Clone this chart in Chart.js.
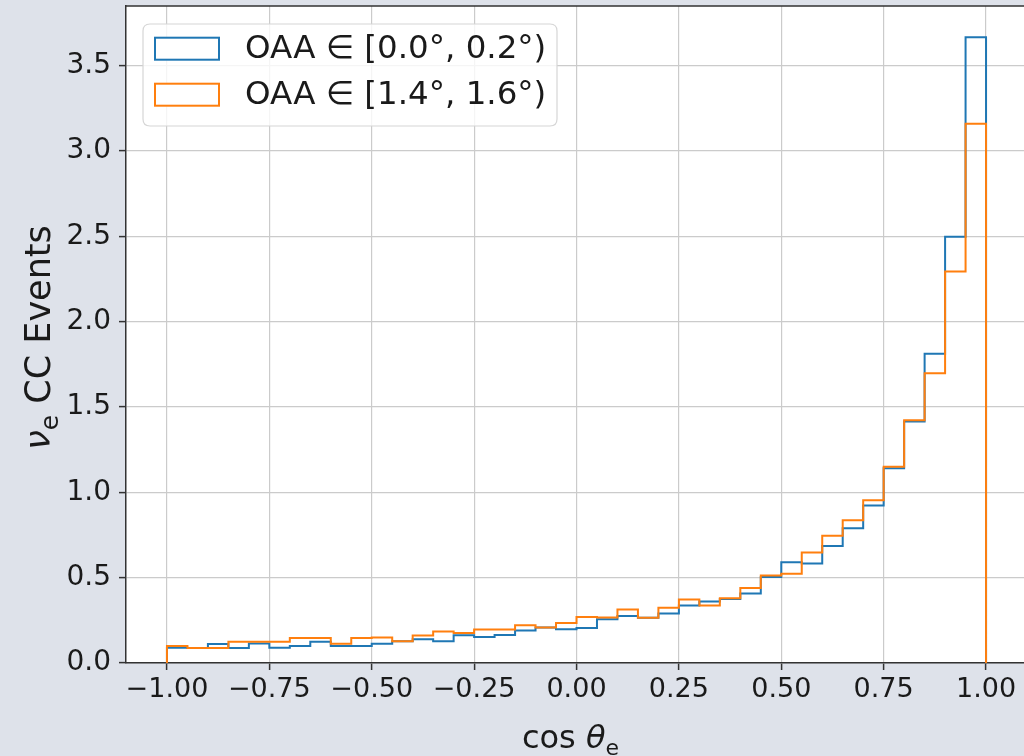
<!DOCTYPE html>
<html>
<head>
<meta charset="utf-8">
<title>nu_e CC events vs cos theta_e</title>
<script src="https://cdn.jsdelivr.net/npm/chart.js@4/dist/chart.umd.min.js"></script>
<style>
  html, body { margin: 0; padding: 0; background: #dee2ea; overflow: hidden; }
  canvas { display: block; }
</style>
</head>
<body>
<canvas id="hist" width="1030" height="756"></canvas>
<script>
// Histogram bin edges in cos(theta_e): 40 bins of width 0.05
const binEdges = [
  -1.00, -0.95, -0.90, -0.85, -0.80, -0.75, -0.70, -0.65, -0.60, -0.55,
  -0.50, -0.45, -0.40, -0.35, -0.30, -0.25, -0.20, -0.15, -0.10, -0.05,
   0.00,  0.05,  0.10,  0.15,  0.20,  0.25,  0.30,  0.35,  0.40,  0.45,
   0.50,  0.55,  0.60,  0.65,  0.70,  0.75,  0.80,  0.85,  0.90,  0.95,
   1.00
];

const seriesLabels = ['OAA \u2208 [0.0\u00b0, 0.2\u00b0)', 'OAA \u2208 [1.4\u00b0, 1.6\u00b0)'];

// Events per bin, on-axis slice
const countsOAA00to02 = [
  0.090, 0.088, 0.111, 0.088, 0.114, 0.090, 0.099, 0.124, 0.099, 0.099,
  0.113, 0.127, 0.139, 0.127, 0.163, 0.152, 0.164, 0.190, 0.208, 0.198,
  0.205, 0.257, 0.276, 0.265, 0.290, 0.337, 0.360, 0.375, 0.407, 0.504,
  0.590, 0.583, 0.686, 0.790, 0.922, 1.141, 1.415, 1.812, 2.497, 3.666
];

// Events per bin, 1.4-1.6 degree off-axis slice
const countsOAA14to16 = [
  0.100, 0.088, 0.088, 0.124, 0.124, 0.124, 0.146, 0.146, 0.113, 0.146,
  0.149, 0.127, 0.161, 0.185, 0.176, 0.196, 0.196, 0.221, 0.208, 0.235,
  0.270, 0.267, 0.313, 0.265, 0.323, 0.372, 0.337, 0.379, 0.440, 0.512,
  0.523, 0.648, 0.745, 0.836, 0.953, 1.149, 1.422, 1.697, 2.294, 3.159
];

const xTickValues = [-1.00, -0.75, -0.50, -0.25, 0.00, 0.25, 0.50, 0.75, 1.00];
const yTickValues = [0.0, 0.5, 1.0, 1.5, 2.0, 2.5, 3.0, 3.5];

const seriesColors = ['#1f77b4', '#ff7f0e'];

const FAMILY = "'DejaVu Sans', 'Liberation Sans', sans-serif";
const TEXT = '#1a1a1a';

// Outline of a step histogram: rise from 0 at the first edge, run across each bin, drop to 0 at the last edge
function stepOutline(edges, counts) {
  const pts = [{ x: edges[0], y: 0 }];
  counts.forEach((c, i) => pts.push({ x: edges[i], y: c }));
  pts.push({ x: edges[edges.length - 1], y: counts[counts.length - 1] });
  pts.push({ x: edges[edges.length - 1], y: 0 });
  return pts;
}

function fmt(v, digits) {
  return (v < 0 ? '\u2212' : '') + Math.abs(v).toFixed(digits);
}

// Background, white axes face, and the top/right frame lines
const framePlugin = {
  id: 'frame',
  beforeDraw(chart) {
    const { ctx, chartArea: a, width, height } = chart;
    ctx.save();
    ctx.fillStyle = '#dee2ea';
    ctx.fillRect(0, 0, width, height);
    ctx.fillStyle = '#ffffff';
    ctx.fillRect(a.left, a.top, a.right - a.left, a.bottom - a.top);
    ctx.restore();
  },
  afterDraw(chart) {
    const { ctx, chartArea: a } = chart;
    ctx.save();
    ctx.strokeStyle = '#333333';
    ctx.lineWidth = 1.5;
    ctx.beginPath();
    ctx.moveTo(a.left, a.top);
    ctx.lineTo(a.right, a.top);
    ctx.lineTo(a.right, a.bottom);
    ctx.stroke();
    ctx.restore();
  }
};

// Legend box in the upper-left corner of the axes
const legendPlugin = {
  id: 'boxLegend',
  afterDatasetsDraw(chart) {
    const { ctx } = chart;
    const x = 143, y = 24, w = 414, h = 102, r = 7;
    ctx.save();
    ctx.beginPath();
    ctx.moveTo(x + r, y);
    ctx.lineTo(x + w - r, y);
    ctx.quadraticCurveTo(x + w, y, x + w, y + r);
    ctx.lineTo(x + w, y + h - r);
    ctx.quadraticCurveTo(x + w, y + h, x + w - r, y + h);
    ctx.lineTo(x + r, y + h);
    ctx.quadraticCurveTo(x, y + h, x, y + h - r);
    ctx.lineTo(x, y + r);
    ctx.quadraticCurveTo(x, y, x + r, y);
    ctx.closePath();
    ctx.fillStyle = 'rgba(255,255,255,0.8)';
    ctx.fill();
    ctx.strokeStyle = '#d6d6d6';
    ctx.lineWidth = 1.2;
    ctx.stroke();

    chart.data.datasets.forEach((ds, i) => {
      const cy = 48.7 + i * 46;
      ctx.fillStyle = '#ffffff';
      ctx.fillRect(154, cy - 11.5, 66, 23);
      ctx.strokeStyle = ds.borderColor;
      ctx.lineWidth = 2;
      ctx.strokeRect(155, cy - 11, 64, 22);
      ctx.fillStyle = TEXT;
      ctx.font = `32.5px ${FAMILY}`;
      ctx.textAlign = 'left';
      ctx.textBaseline = 'middle';
      ctx.fillText(ds.label, 245, cy + 1);
    });
    ctx.restore();
  }
};

// Draws a run of text pieces (normal / italic / subscript) centred on 0 along the baseline
function drawPieces(ctx, pieces, size) {
  const fontOf = p => `${p.italic ? 'italic ' : ''}${Math.round(size * (p.sub ? 0.7 : 1))}px ${FAMILY}`;
  let total = 0;
  pieces.forEach(p => { ctx.font = fontOf(p); p.w = ctx.measureText(p.t).width; total += p.w; });
  let cx = -total / 2;
  pieces.forEach(p => {
    ctx.font = fontOf(p);
    ctx.fillText(p.t, cx, p.sub ? size * 0.22 : 0);
    cx += p.w;
  });
}

// Axis titles with math-style Greek letters and subscripts
const titlesPlugin = {
  id: 'axisTitles',
  afterDraw(chart) {
    const { ctx, chartArea: a } = chart;
    ctx.save();
    ctx.fillStyle = TEXT;
    ctx.textAlign = 'left';
    ctx.textBaseline = 'alphabetic';

    ctx.save();
    ctx.translate((a.left + a.right) / 2 - 6, 748);
    drawPieces(ctx, [
      { t: 'cos ' },
      { t: '\u03b8', italic: true },
      { t: 'e', sub: true }
    ], 32);
    ctx.restore();

    ctx.save();
    ctx.translate(50, (a.top + a.bottom) / 2 + 3);
    ctx.rotate(-Math.PI / 2);
    drawPieces(ctx, [
      { t: '\u03bd', italic: true },
      { t: 'e', sub: true },
      { t: ' CC Events' }
    ], 35);
    ctx.restore();

    ctx.restore();
  }
};

const gridStyle = {
  color: '#cbcbcb',
  lineWidth: 1.2,
  tickLength: 7,
  tickColor: '#333333',
  tickWidth: 1.5
};

new Chart(document.getElementById('hist'), {
  type: 'line',
  data: {
    datasets: [
      {
        label: seriesLabels[0],
        data: stepOutline(binEdges, countsOAA00to02),
        borderColor: seriesColors[0],
        order: 1
      },
      {
        label: seriesLabels[1],
        data: stepOutline(binEdges, countsOAA14to16),
        borderColor: seriesColors[1],
        order: 0
      }
    ]
  },
  options: {
    responsive: false,
    animation: false,
    devicePixelRatio: 1,
    layout: { padding: { top: 6, right: 3, left: 0, bottom: 0 }, autoPadding: false },
    elements: {
      point: { radius: 0, hoverRadius: 0 },
      line: { borderWidth: 2, fill: false, tension: 0, stepped: true, borderCapStyle: 'butt', borderJoinStyle: 'miter' }
    },
    plugins: {
      legend: { display: false },
      tooltip: { enabled: false }
    },
    events: [],
    scales: {
      x: {
        type: 'linear',
        min: -1.1,
        max: 1.1,
        afterBuildTicks: s => { s.ticks = xTickValues.map(v => ({ value: v })); },
        afterFit: s => { s.height = 93; s.paddingLeft = 0; s.paddingRight = 0; },
        ticks: {
          callback: v => fmt(v, 2),
          font: { family: FAMILY, size: 27 },
          color: TEXT,
          padding: 4,
          maxRotation: 0,
          autoSkip: false
        },
        grid: gridStyle,
        border: { color: '#333333', width: 1.5 }
      },
      y: {
        type: 'linear',
        min: 0,
        max: 3.849,
        afterBuildTicks: s => { s.ticks = yTickValues.map(v => ({ value: v })); },
        afterFit: s => { s.width = 126; s.paddingTop = 0; s.paddingBottom = 0; },
        ticks: {
          callback: v => fmt(v, 1),
          font: { family: FAMILY, size: 28 },
          color: TEXT,
          padding: 8,
          autoSkip: false
        },
        grid: gridStyle,
        border: { color: '#333333', width: 1.5 }
      }
    }
  },
  plugins: [framePlugin, legendPlugin, titlesPlugin]
});
</script>
</body>
</html>
